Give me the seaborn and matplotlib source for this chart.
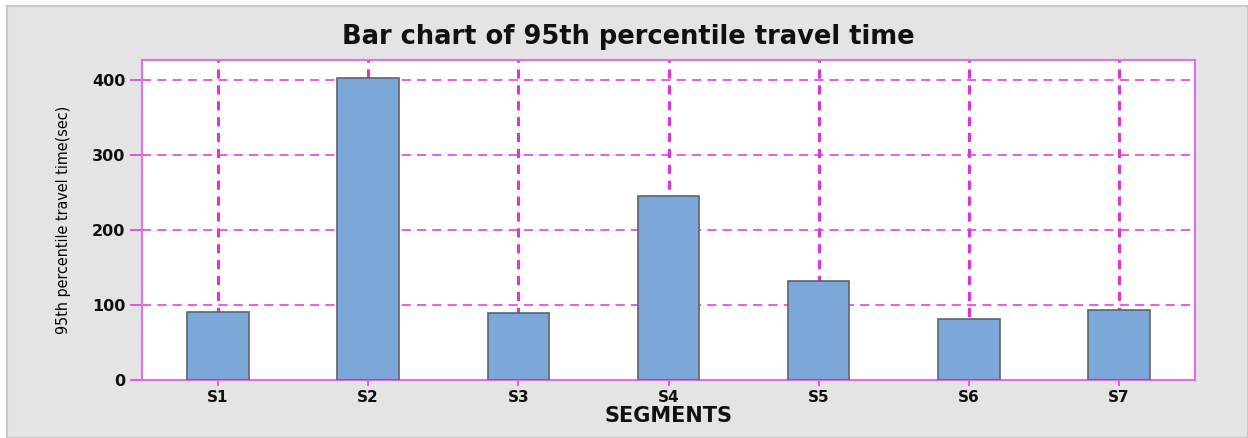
import matplotlib
matplotlib.use("Agg")
import matplotlib.pyplot as plt
from matplotlib.patches import Rectangle
import seaborn as sns
import pandas as pd

segments = ["S1", "S2", "S3", "S4", "S5", "S6", "S7"]
travel_time_95 = [91, 403, 89, 245, 132, 82, 93]
y_ticks = [0, 100, 200, 300, 400]

df = pd.DataFrame({"segment": segments, "time": travel_time_95})

sns.set_theme(style="white")
plt.rcParams["font.family"] = ["DejaVu Sans"]

W, H, DPI = 1248, 438, 100
fig = plt.figure(figsize=(W / DPI, H / DPI), dpi=DPI, facecolor="white")

# grey panel behind the chart
fig.patches.append(Rectangle((7 / W, 0), 1 - 7 / W, 1 - 6 / H, transform=fig.transFigure,
                             facecolor="#e4e4e4", edgecolor="#c8c8c8", linewidth=1.5, zorder=-1))

ax = fig.add_axes([142 / W, 1 - 380 / H, (1195 - 142) / W, (380 - 60) / H])
ax.set_facecolor("white")

magenta = "#e030e0"
frame = "#e070e8"

# vertical reference lines at every category
for i in range(len(segments)):
    ax.axvline(i, color=magenta, linestyle=(0, (3, 2.2)), linewidth=2.2, zorder=1)

sns.barplot(data=df, x="segment", y="time", ax=ax, color="#7ba7d9", width=0.41,
            edgecolor="#5f6468", linewidth=1.2, saturation=1, zorder=3)

ax.set_xlim(-0.507, 6.507)
ax.set_ylim(0, 426.7)
ax.set_yticks(y_ticks)
ax.set_yticklabels([str(v) for v in y_ticks])

for v in y_ticks[1:]:
    ax.axhline(v, color=magenta, linestyle=(0, (6, 4)), linewidth=1.1, zorder=1)

ax.tick_params(axis="y", length=9, width=1.1, color=magenta, pad=3, direction="out",
               left=True, labelsize=11.5)
ax.tick_params(axis="x", length=4, width=1.1, color=magenta, pad=3, direction="out",
               bottom=True, labelsize=11)
for lab in ax.get_xticklabels() + ax.get_yticklabels():
    lab.set_fontweight("bold")
    lab.set_fontstretch("normal")
    lab.set_color("#111111")

for s in ax.spines.values():
    s.set_visible(True)
    s.set_color(frame)
    s.set_linewidth(1.5)

ax.set_xlabel("SEGMENTS", fontsize=15, fontweight="bold", color="#111111", labelpad=1)
ax.set_ylabel("95th percentile travel time(sec)", fontsize=11.5, color="#000000", labelpad=15,
              fontstretch="condensed", fontweight="medium")

fig.text(628 / W, 1 - 37 / H, "Bar chart of 95th percentile travel time", ha="center", va="center",
         fontsize=18.5, fontweight="bold", color="#111111")

fig.savefig("out.png", dpi=DPI, facecolor=fig.get_facecolor())
